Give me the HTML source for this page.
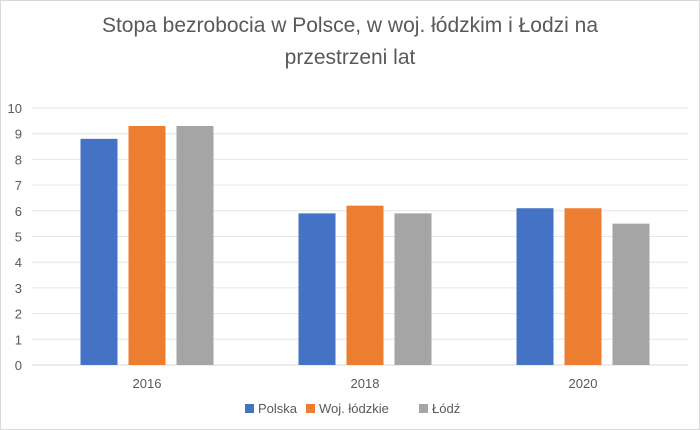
<!DOCTYPE html>
<html><head><meta charset="utf-8">
<style>
html,body{margin:0;padding:0;background:#fff;}
svg{display:block;font-family:"Liberation Sans",sans-serif;}
</style></head>
<body>
<svg width="700" height="430" viewBox="0 0 700 430">
<rect x="0.5" y="0.5" width="699" height="429" fill="#fff" stroke="#d9d9d9"/>
<text x="350" y="32" text-anchor="middle" font-size="21" fill="#595959">Stopa bezrobocia w Polsce, w woj. łódzkim i Łodzi na</text>
<text x="350" y="64" text-anchor="middle" font-size="21" fill="#595959">przestrzeni lat</text>
<g id="grid"></g>
<g id="bars"></g>
<g id="labels"></g>
<g id="legend"></g>
</svg>
<script>
const categories = ["2016","2018","2020"];
const seriesNames = ["Polska","Woj. łódzkie","Łódź"];
const polska = [8.8, 5.9, 6.1];
const wojLodzkie = [9.3, 6.2, 6.1];
const lodz = [9.3, 5.9, 5.5];
const yTicks = [0,1,2,3,4,5,6,7,8,9,10];

const colors = ["#4472c4","#ed7d31","#a5a5a5"];
const series = [polska, wojLodzkie, lodz];
const NS = "http://www.w3.org/2000/svg";
const plotL = 32, plotR = 688, plotTop = 108, plotBot = 365, yMax = 10;
const y = v => plotBot - v / yMax * (plotBot - plotTop);
const band = 218;
const xCenter = i => 147 + band * i;
const barW = 37, gap = 11;

function mk(tag, attrs, parent){
  const e = document.createElementNS(NS, tag);
  for (const k in attrs) e.setAttribute(k, attrs[k]);
  parent.appendChild(e); return e;
}
const grid = document.getElementById('grid');
const bars = document.getElementById('bars');
const labels = document.getElementById('labels');
const legend = document.getElementById('legend');

yTicks.forEach(t => {
  const l = mk('line', {x1: plotL, x2: plotR, y1: y(t), y2: y(t), stroke: t === 0 ? '#d9d9d9' : '#e6e6e6', 'stroke-width': 1}, grid);
  
  
  const tx = mk('text', {x: 22, y: y(t) + 5, 'text-anchor': 'end', 'font-size': 13, fill: '#595959'}, labels);
  tx.textContent = t;
  
  
});

categories.forEach((c, i) => {
  series.forEach((s, j) => {
    const x = xCenter(i) + (j - 1) * (barW + gap) - barW / 2;
    const r = mk('rect', {x: x, y: y(s[i]), width: barW, height: plotBot - y(s[i]), fill: colors[j]}, bars);
    
    
  });
  const tx = mk('text', {x: xCenter(i), y: 388, 'text-anchor': 'middle', 'font-size': 13, fill: '#595959'}, labels);
  tx.textContent = c;
  
  
});

const legendX = [245, 306, 419];
seriesNames.forEach((n, j) => {
  const sq = mk('rect', {x: legendX[j], y: 404, width: 9, height: 9, fill: colors[j]}, legend);
  
  
  const tx = mk('text', {x: legendX[j] + 13, y: 413, 'font-size': 13, fill: '#595959'}, legend);
  tx.textContent = n;
  
  
});
</script>
</body></html>
